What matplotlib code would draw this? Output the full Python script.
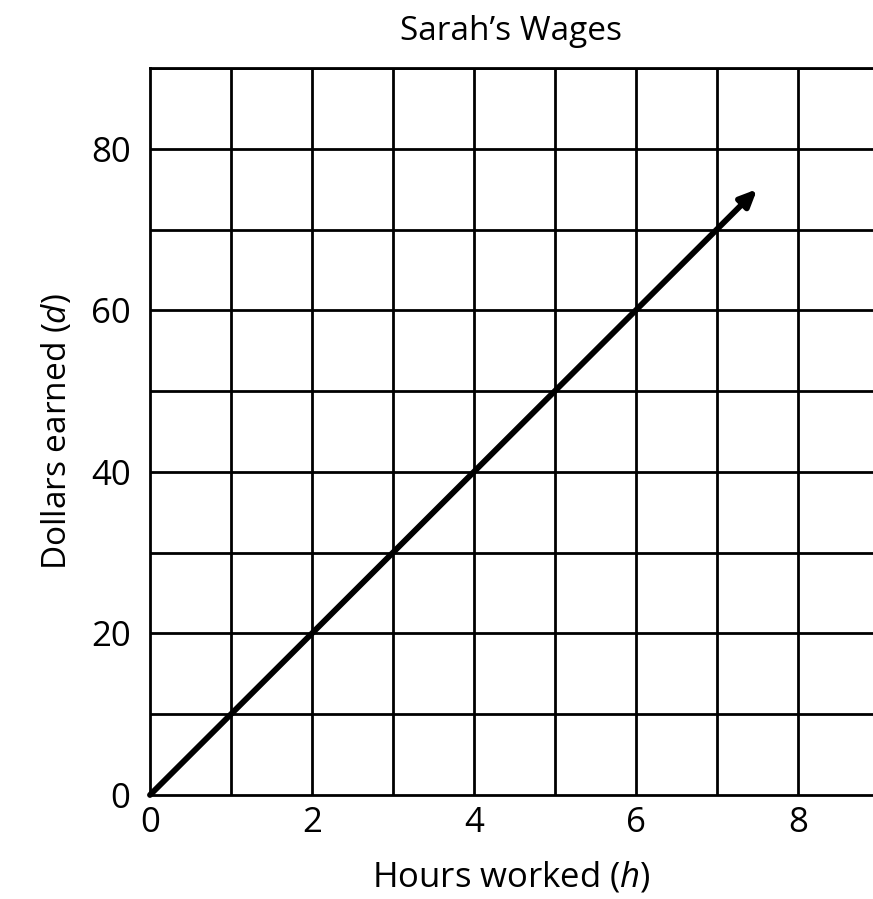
import matplotlib
matplotlib.use("Agg")
import matplotlib.pyplot as plt

plt.rcParams['font.family'] = ['Open Sans', 'DejaVu Sans']
plt.rcParams['mathtext.fontset'] = 'custom'
plt.rcParams['mathtext.it'] = 'Open Sans:italic'
plt.rcParams['mathtext.rm'] = 'Open Sans'

# Sarah's wages: dollars earned against hours worked
hours = [0, 7.5]
dollars = [0, 75]
x_ticks = [0, 2, 4, 6, 8]
y_ticks = [0, 20, 40, 60, 80]

fig = plt.figure(figsize=(8.73, 8.99), dpi=100)
ax = fig.add_axes([0.1718, 0.1157, 0.8282, 0.8087])

ax.set_xlim(0, 8.93)
ax.set_ylim(0, 90)

# grid every hour and every 10 dollars
for h in range(1, 9):
    ax.axvline(h, color='black', lw=2.0, zorder=1)
for d in range(10, 91, 10):
    ax.axhline(d, color='black', lw=2.0, zorder=1)

ax.spines['right'].set_visible(False)
for s in ['left', 'bottom', 'top']:
    ax.spines[s].set_linewidth(2.0)

ax.annotate('', xy=(hours[1], dollars[1]), xytext=(hours[0], dollars[0]),
            arrowprops=dict(arrowstyle='-|>,head_length=1.0,head_width=0.45',
                            color='black', lw=4.2, shrinkA=0, shrinkB=0),
            zorder=3)

ax.set_xticks(x_ticks)
ax.set_yticks(y_ticks)
ax.tick_params(length=0, labelsize=25, pad=8)
ax.tick_params(axis='y', pad=14)

ax.set_title("Sarah\u2019s Wages", fontsize=24, pad=20)
ax.set_xlabel("Hours worked ($h$)", fontsize=25, labelpad=14)
ax.set_ylabel("Dollars earned ($d$)", fontsize=24, labelpad=12)

fig.savefig("out.png", dpi=100)
